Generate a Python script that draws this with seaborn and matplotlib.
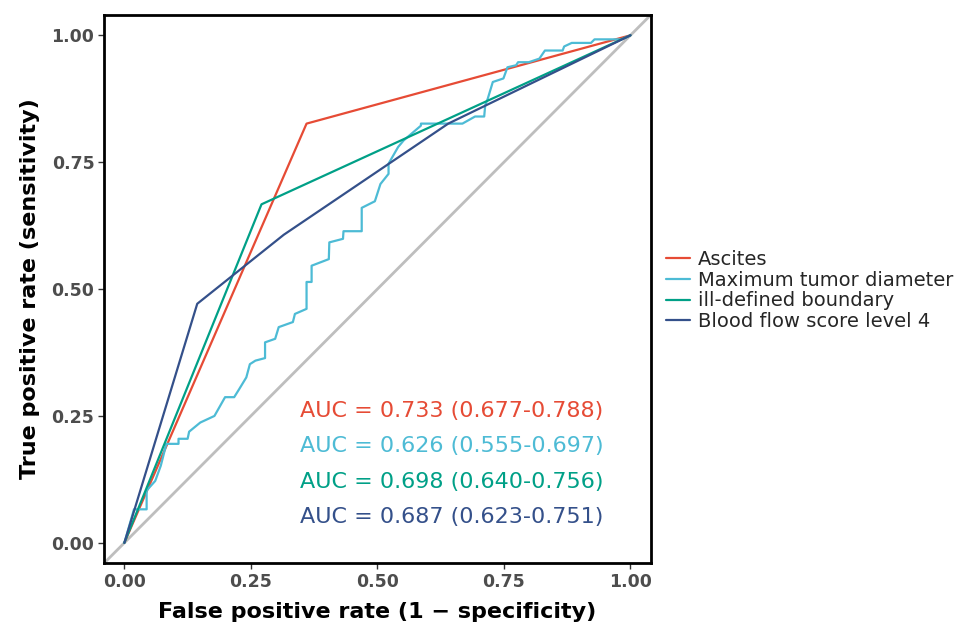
import numpy as np
import pandas as pd
import matplotlib
matplotlib.use("Agg")
import matplotlib.pyplot as plt
import seaborn as sns

# ROC curves
models = ["Ascites", "Maximum tumor diameter", "ill-defined boundary", "Blood flow score level 4"]
colors = ["#E64B35", "#4DBBD5", "#00A087", "#34508A"]

ascites_fpr = [0.0, 0.36, 1.0]
ascites_tpr = [0.0, 0.826, 1.0]

diameter_fpr = [0.0, 0.019, 0.044, 0.044, 0.061, 0.072, 0.083, 0.107, 0.107, 0.125, 0.128,
                0.150, 0.178, 0.199, 0.217, 0.227, 0.241, 0.248, 0.259, 0.278, 0.278, 0.298,
                0.305, 0.333, 0.337, 0.360, 0.360, 0.370, 0.370, 0.404, 0.405, 0.432, 0.433,
                0.469, 0.469, 0.495, 0.506, 0.522, 0.522, 0.541, 0.552, 0.586, 0.586, 0.668,
                0.693, 0.711, 0.713, 0.718, 0.728, 0.749, 0.757, 0.774, 0.778, 0.799, 0.820,
                0.831, 0.866, 0.869, 0.884, 0.922, 0.929, 0.982, 1.0]
diameter_tpr = [0.0, 0.066, 0.066, 0.103, 0.122, 0.152, 0.195, 0.195, 0.205, 0.205, 0.219,
                0.237, 0.250, 0.287, 0.287, 0.303, 0.326, 0.352, 0.359, 0.364, 0.395, 0.402,
                0.425, 0.435, 0.451, 0.461, 0.514, 0.514, 0.546, 0.559, 0.592, 0.599, 0.614,
                0.614, 0.660, 0.673, 0.707, 0.727, 0.747, 0.780, 0.793, 0.822, 0.826, 0.826,
                0.840, 0.840, 0.862, 0.875, 0.908, 0.915, 0.937, 0.941, 0.947, 0.947, 0.954,
                0.970, 0.970, 0.978, 0.985, 0.985, 0.992, 0.992, 1.0]

boundary_fpr = [0.0, 0.271, 1.0]
boundary_tpr = [0.0, 0.667, 1.0]

bloodflow_fpr = [0.0, 0.144, 0.315, 0.64, 1.0]
bloodflow_tpr = [0.0, 0.471, 0.607, 0.826, 1.0]

auc_labels = ["AUC = 0.733 (0.677-0.788)", "AUC = 0.626 (0.555-0.697)",
              "AUC = 0.698 (0.640-0.756)", "AUC = 0.687 (0.623-0.751)"]
auc_y = [0.26, 0.19, 0.12, 0.05]

curves = [(ascites_fpr, ascites_tpr), (diameter_fpr, diameter_tpr),
          (boundary_fpr, boundary_tpr), (bloodflow_fpr, bloodflow_tpr)]
frames = []
for name, (f, t) in zip(models, curves):
    frames.append(pd.DataFrame({"fpr": f, "tpr": t, "model": name}))
data = pd.concat(frames, ignore_index=True)

sns.set_style("white")
plt.rcParams["font.family"] = ["DejaVu Sans"]

fig = plt.figure(figsize=(9.64, 6.25), dpi=100)
ax = fig.add_axes([0.108, 0.099, 0.567, 0.877])

lo, hi = -0.04, 1.04
ax.plot([lo, hi], [lo, hi], color="#BEBEBE", lw=2, zorder=1)

sns.lineplot(data=data, x="fpr", y="tpr", hue="model", hue_order=models,
             palette=colors, sort=False, estimator=None, units="model",
             lw=1.6, ax=ax, legend=True)

for lab, yy, c in zip(auc_labels, auc_y, colors):
    ax.text(0.348, yy, lab, color=c, fontsize=16, va="center", ha="left")

ax.set_xlim(lo, hi)
ax.set_ylim(lo, hi)
ticks = [0.0, 0.25, 0.5, 0.75, 1.0]
ax.set_xticks(ticks)
ax.set_yticks(ticks)
ax.set_xticklabels(["0.00", "0.25", "0.50", "0.75", "1.00"])
ax.set_yticklabels(["0.00", "0.25", "0.50", "0.75", "1.00"])
ax.tick_params(axis="both", which="major", length=4, width=1, color="#333333", pad=3,
               labelsize=12.5, labelcolor="#4D4D4D", direction="out", bottom=True, left=True)
for lbl in ax.get_xticklabels() + ax.get_yticklabels():
    lbl.set_fontweight("bold")
for s in ax.spines.values():
    s.set_color("black")
    s.set_linewidth(2)

ax.set_xlabel("False positive rate (1 \u2212 specificity)", fontsize=16, fontweight="bold",
              color="black", labelpad=8)
ax.set_ylabel("True positive rate (sensitivity)", fontsize=16, fontweight="bold",
              color="black", labelpad=8)

handles, labels = ax.get_legend_handles_labels()
ax.get_legend().remove()
fig.legend(handles, labels, loc="center left", bbox_to_anchor=(0.677, 0.535),
           frameon=False, fontsize=14, handlelength=1.2, handletextpad=0.45,
           labelspacing=0.08, borderpad=0.2)

fig.savefig("out.png", dpi=100)
